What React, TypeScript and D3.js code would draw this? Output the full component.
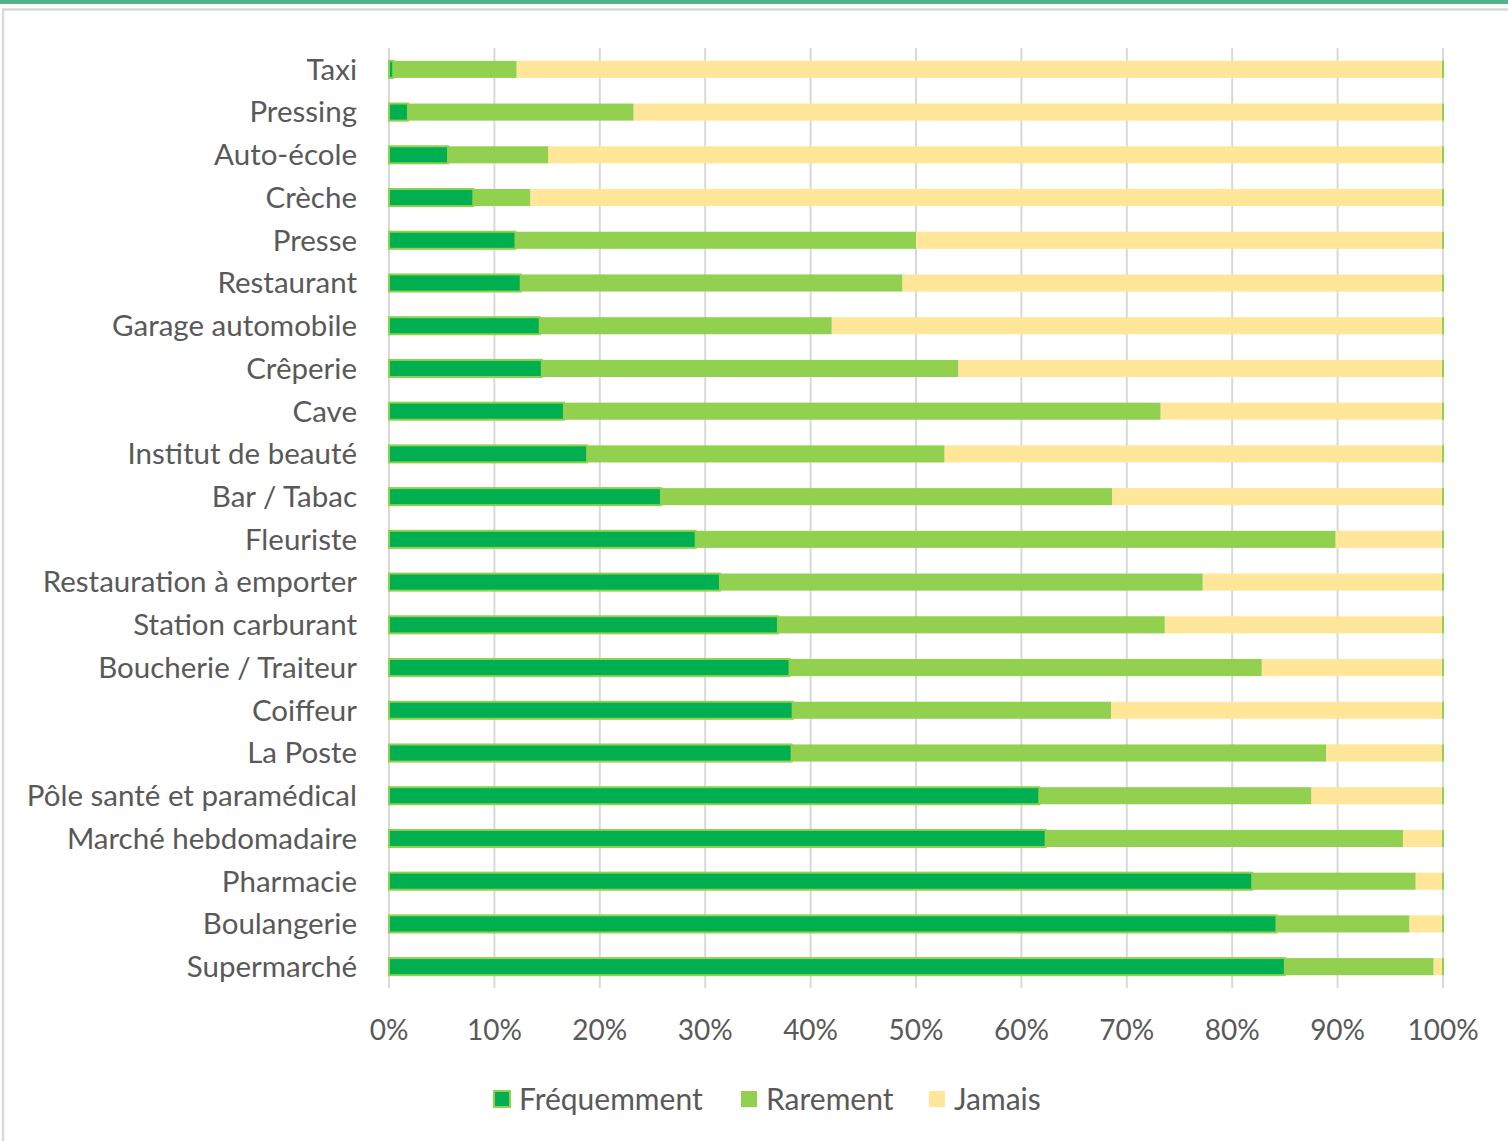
import * as d3 from 'd3'
import React from 'react'

const categories = [
  'Taxi', 'Pressing', 'Auto-école', 'Crèche', 'Presse', 'Restaurant', 'Garage automobile',
  'Crêperie', 'Cave', 'Institut de beauté', 'Bar / Tabac', 'Fleuriste', 'Restauration à emporter',
  'Station carburant', 'Boucherie / Traiteur', 'Coiffeur', 'La Poste', 'Pôle santé et paramédical',
  'Marché hebdomadaire', 'Pharmacie', 'Boulangerie', 'Supermarché',
]
const frequemment = [0.4, 1.8, 5.6, 8.0, 12.0, 12.5, 14.3, 14.5, 16.6, 18.8, 25.8, 29.1, 31.4, 36.9, 38.0, 38.3, 38.2, 61.7, 62.3, 81.9, 84.2, 85.0]
const rarement = [11.7, 21.4, 9.5, 5.4, 38.0, 36.2, 27.7, 39.5, 56.6, 33.9, 42.8, 60.7, 45.8, 36.7, 44.8, 30.2, 50.7, 25.8, 33.9, 15.5, 12.6, 14.1]
const jamais = categories.map((_, i) => +(100 - frequemment[i] - rarement[i]).toFixed(1))
const ticks = [0, 10, 20, 30, 40, 50, 60, 70, 80, 90, 100]

const series = [
  { name: 'Fréquemment', values: frequemment, color: '#00B050' },
  { name: 'Rarement', values: rarement, color: '#92D050' },
  { name: 'Jamais', values: jamais, color: '#FFE699' },
]

const W = 1508, H = 1141
const font = 'Lato, "Open Sans", sans-serif'
const txt = '#595959'

export default function App() {
  const x = d3.scaleLinear().domain([0, 100]).range([389, 1443])
  const y = d3.scaleBand().domain(categories).range([48, 988]).paddingInner(0.6).paddingOuter(0.3)

  const rows = categories.map((c, i) => {
    let acc = 0
    return series.map(s => {
      const x0 = acc
      acc += s.values[i]
      return { cat: c, name: s.name, color: s.color, x0, x1: acc }
    })
  })

  const legendX = [493, 740, 928]

  return (
    <div style={{ position: 'fixed', left: 0, top: 0 }}>
      <svg width={W} height={H} style={{ display: 'block', background: '#fff' }}>
        <rect x={0} y={0} width={W} height={4} fill='#4DB48E' />
        <rect x={3} y={9.5} width={W + 10} height={H + 10} fill='none' stroke='#d9d9d9' strokeWidth={2.5} />
        {ticks.map(t => (
          <line key={t} x1={x(t)} x2={x(t)} y1={48} y2={988} stroke='#d9d9d9' strokeWidth={2} />
        ))}
        {rows.map((segs, i) => (
          <g key={categories[i]}>
            {segs.slice().reverse().map(s => (
              <rect key={s.name}
                x={x(s.x0)} width={Math.max(0, x(s.x1) - x(s.x0))}
                y={y(s.cat)!} height={y.bandwidth()}
                fill={s.color}
                stroke={s.name === 'Fréquemment' ? '#92D050' : 'none'}
                strokeWidth={s.name === 'Fréquemment' ? 2 : 0} />
            ))}
            <line x1={x(100)} x2={x(100)} y1={y(segs[0].cat)!} y2={y(segs[0].cat)! + y.bandwidth()} stroke='#92D050' strokeWidth={2} />
            <text x={357} y={y(segs[0].cat)! + y.bandwidth() / 2} dy='0.35em' textAnchor='end'
              fontFamily={font} fontSize={29.5} fill={txt}>{categories[i]}</text>
          </g>
        ))}
        {ticks.map(t => (
          <text key={t} x={x(t)} y={1030} dy='0.35em' textAnchor='middle' fontFamily={font} fontSize={28} fill={txt}>{t}%</text>
        ))}
        {series.map((s, i) => (
          <g key={s.name} transform={`translate(${legendX[i]},1091)`}>
            <rect x={1} y={0} width={16} height={16} fill={s.color}
              stroke={i === 0 ? '#92D050' : 'none'} strokeWidth={2} />
            <text x={26} y={8} dy='0.35em' fontFamily={font} fontSize={30} fill={txt}>{s.name}</text>
          </g>
        ))}
      </svg>
    </div>
  )
}
